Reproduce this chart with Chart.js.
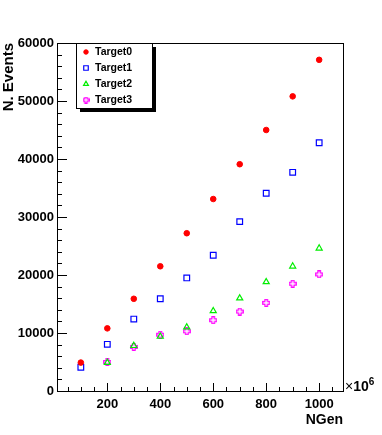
<!DOCTYPE html>
<html>
<head>
<meta charset="utf-8">
<script src="https://cdn.jsdelivr.net/npm/chart.js@4/dist/chart.umd.min.js"></script>
<style>
  html, body { margin: 0; padding: 0; background: #fff; }
  #wrap { width: 382px; height: 435px; }
</style>
</head>
<body>
<div id="wrap"><canvas id="graph"></canvas></div>
<script>
// values (NGen in units of 10^6)
const ngen = [100, 200, 300, 400, 500, 600, 700, 800, 900, 1000];
const target0 = [4900, 10800, 15900, 21500, 27200, 33100, 39100, 45000, 50800, 57100];
const target1 = [4100, 8050, 12400, 15900, 19500, 23400, 29200, 34100, 37700, 42800];
const target2 = [null, 4900, 7800, 9400, 11000, 13800, 16000, 18800, 21500, 24600];
const target3 = [null, 5000, 7600, 9700, 10300, 12200, 13700, 15200, 18500, 20100];
const seriesNames = ['Target0', 'Target1', 'Target2', 'Target3'];
const xTickLabels = [200, 400, 600, 800, 1000];
const yTickLabels = [0, 10000, 20000, 30000, 40000, 50000, 60000];

const FONT = 'Liberation Sans, Arial, Helvetica, sans-serif';

// open cross marker, like ROOT's style 28
function openCross(color, size) {
  const c = document.createElement('canvas');
  c.width = size; c.height = size;
  const g = c.getContext('2d');
  g.strokeStyle = color;
  g.lineWidth = 1.2;
  const m = size / 2, a = size * 0.16, b = size * 0.41;
  g.beginPath();
  g.moveTo(m - a, m - b); g.lineTo(m + a, m - b); g.lineTo(m + a, m - a);
  g.lineTo(m + b, m - a); g.lineTo(m + b, m + a); g.lineTo(m + a, m + a);
  g.lineTo(m + a, m + b); g.lineTo(m - a, m + b); g.lineTo(m - a, m + a);
  g.lineTo(m - b, m + a); g.lineTo(m - b, m - a); g.lineTo(m - a, m - a);
  g.closePath();
  g.stroke();
  return c;
}

function pts(ys) {
  return ngen.map((x, i) => ({ x: x, y: ys[i] })).filter(p => p.y !== null);
}

const styles = [
  { pointStyle: 'circle', pointRadius: 2.8, pointBackgroundColor: '#ff0000', pointBorderColor: '#ff0000', pointBorderWidth: 1 },
  { pointStyle: 'rect', pointRadius: 4, pointBackgroundColor: 'rgba(0,0,0,0)', pointBorderColor: '#0000ff', pointBorderWidth: 1.2 },
  { pointStyle: 'triangle', pointRadius: 3.5, pointBackgroundColor: 'rgba(0,0,0,0)', pointBorderColor: '#00ee00', pointBorderWidth: 1.2 },
  { pointStyle: openCross('#ff00ff', 8), pointRadius: 4, pointBackgroundColor: 'rgba(0,0,0,0)', pointBorderColor: '#ff00ff', pointBorderWidth: 1 }
];
const legendCross = openCross('#ff00ff', 7);
const allSeries = [target0, target1, target2, target3];

const datasets = allSeries.map((s, i) => Object.assign({
  label: seriesNames[i],
  data: pts(s),
  showLine: false
}, styles[i]));

const rootFrame = {
  id: 'rootFrame',
  afterDatasetsDraw(chart) {
    const ctx = chart.ctx;
    const a = chart.chartArea;
    const xs = chart.scales.x, ys = chart.scales.y;
    ctx.save();
    ctx.strokeStyle = '#000';
    ctx.lineWidth = 1;
    ctx.strokeRect(Math.round(a.left) + 0.5, Math.round(a.top) + 0.5,
                   Math.round(a.right - a.left), Math.round(a.bottom - a.top));
    // inner ticks, y: minor every 2000, major every 10000
    ctx.beginPath();
    for (let v = 0; v <= 60000; v += 2000) {
      const py = Math.round(ys.getPixelForValue(v)) + 0.5;
      const len = v % 10000 === 0 ? 10 : 5;
      ctx.moveTo(a.left, py); ctx.lineTo(a.left + len, py);
    }
    // x: minor every 50, major every 200
    for (let v = 50; v <= 1050; v += 50) {
      const px = Math.round(xs.getPixelForValue(v)) + 0.5;
      const len = v % 200 === 0 ? 8 : 4;
      ctx.moveTo(px, a.bottom); ctx.lineTo(px, a.bottom - len);
    }
    ctx.stroke();

    // axis titles
    ctx.fillStyle = '#000';
    ctx.font = 'bold 14px ' + FONT;
    ctx.textAlign = 'right';
    ctx.textBaseline = 'alphabetic';
    ctx.fillText('NGen', a.right, 424);
    ctx.save();
    ctx.translate(13, a.top);
    ctx.rotate(-Math.PI / 2);
    ctx.font = 'bold 15px ' + FONT;
    ctx.textAlign = 'right';
    ctx.fillText('N. Events', 0, 0);
    ctx.restore();
    // exponent
    ctx.textAlign = 'left';
    let ex = a.right + 2;
    ctx.font = '14px ' + FONT;
    ctx.fillText('\u00d7', ex, a.bottom);
    ex += ctx.measureText('\u00d7').width;
    ctx.font = 'bold 14px ' + FONT;
    ctx.fillText('10', ex, a.bottom);
    ex += ctx.measureText('10').width;
    ctx.font = 'bold 10px ' + FONT;
    ctx.fillText('6', ex, a.bottom - 6);

    // legend box with shadow
    const bx = 76, by = 43, bw = 76, bh = 65;
    ctx.fillStyle = '#000';
    ctx.fillRect(bx + 4, by + 4, bw, bh);
    ctx.fillStyle = '#fff';
    ctx.fillRect(bx, by, bw, bh);
    ctx.strokeStyle = '#000';
    ctx.lineWidth = 1;
    ctx.strokeRect(bx + 0.5, by + 0.5, bw, bh);
    const rows = [52, 68, 84, 100];
    ctx.font = 'bold 10.5px ' + FONT;
    ctx.textAlign = 'left';
    ctx.textBaseline = 'middle';
    chart.data.datasets.forEach((ds, i) => {
      const opts = {
        pointStyle: i === 3 ? legendCross : ds.pointStyle,
        radius: ds.pointRadius * 0.8, rotation: 0,
        borderWidth: ds.pointBorderWidth
      };
      ctx.save();
      ctx.fillStyle = ds.pointBackgroundColor;
      ctx.strokeStyle = ds.pointBorderColor;
      ctx.lineWidth = ds.pointBorderWidth;
      Chart.helpers.drawPoint(ctx, opts, 86, rows[i]);
      ctx.restore();
      ctx.fillStyle = '#000';
      ctx.fillText(ds.label, 95, rows[i] + 0.5);
    });
    ctx.restore();
  }
};

new Chart(document.getElementById('graph'), {
  type: 'scatter',
  data: { datasets: datasets },
  options: {
    responsive: true,
    maintainAspectRatio: false,
    animation: false,
    events: [],
    layout: { padding: { left: 0, top: 43, right: 39, bottom: 0 } },
    plugins: { legend: { display: false }, tooltip: { enabled: false } },
    scales: {
      x: {
        type: 'linear', min: 10, max: 1090,
        grid: { display: false, drawTicks: false },
        border: { display: false },
        afterBuildTicks: s => { s.ticks = xTickLabels.map(v => ({ value: v })); },
        afterFit: s => { s.height = 44; },
        ticks: { color: '#000', padding: 6, maxRotation: 0, font: { family: FONT, size: 13, weight: 'bold' },
                 callback: v => String(v) }
      },
      y: {
        type: 'linear', min: 0, max: 60000,
        grid: { display: false, drawTicks: false },
        border: { display: false },
        afterBuildTicks: s => { s.ticks = yTickLabels.map(v => ({ value: v })); },
        afterFit: s => { s.width = 57; },
        ticks: { color: '#000', padding: 3, font: { family: FONT, size: 13, weight: 'bold' },
                 callback: v => String(v) }
      }
    }
  },
  plugins: [rootFrame]
});
</script>
</body>
</html>
